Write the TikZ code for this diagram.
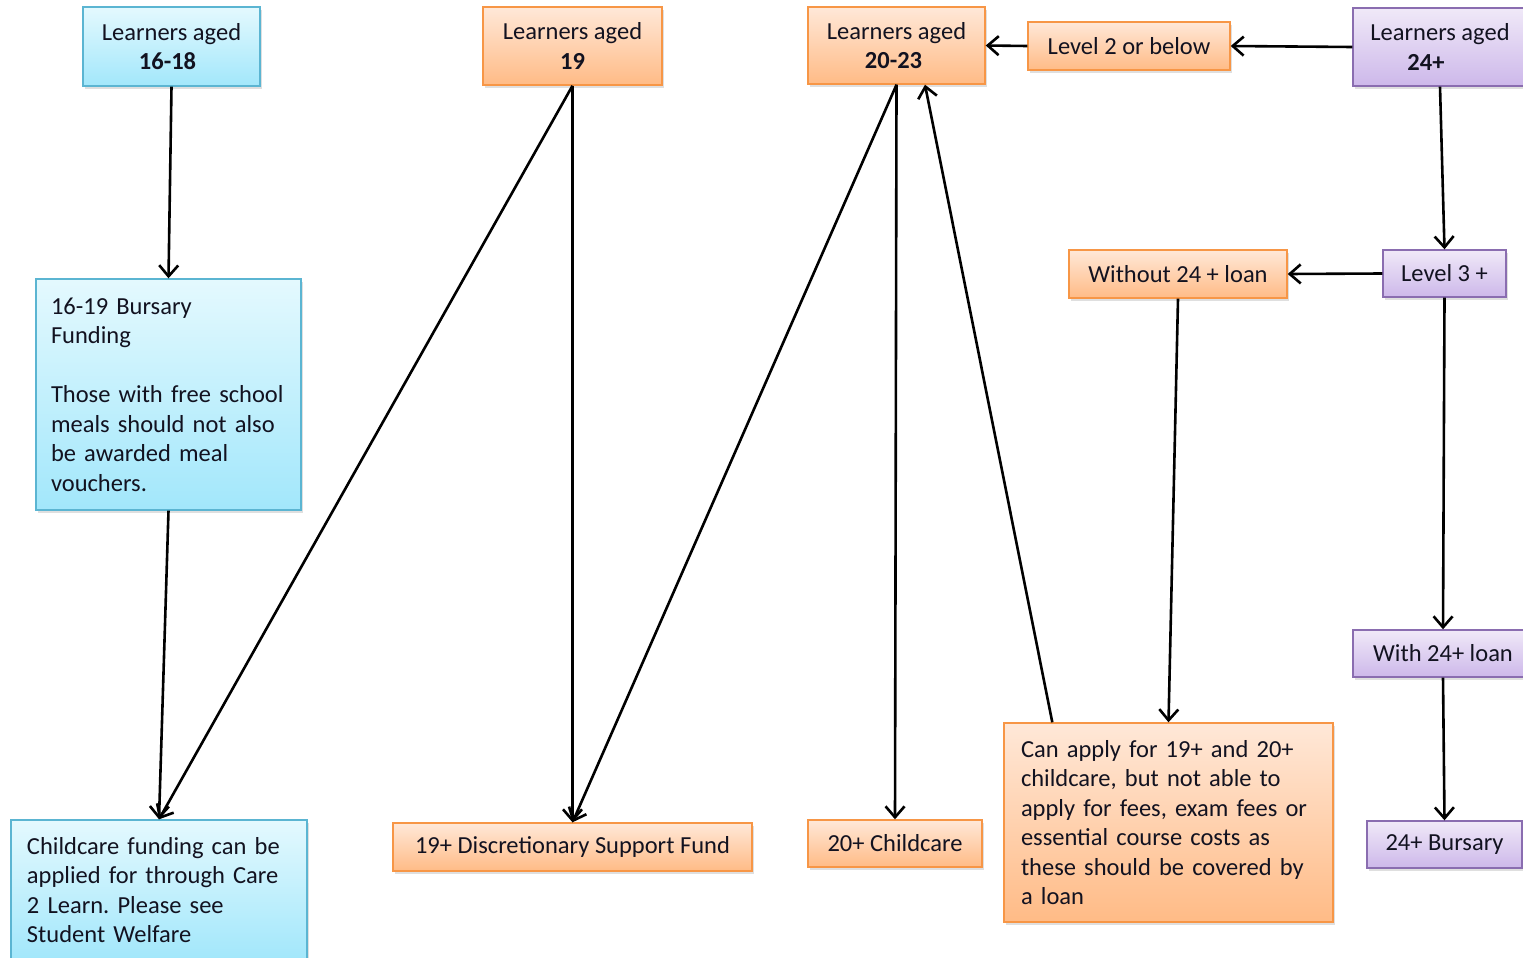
\documentclass[tikz,border=0pt]{standalone}
\usepackage{fontspec}
\setmainfont{Carlito}
\usetikzlibrary{arrows.meta,shadows,calc}
\definecolor{txt}{RGB}{18,18,32}
\definecolor{ortop}{HTML}{FFE8D8}
\definecolor{orbot}{HTML}{FFBB86}
\definecolor{orbd}{HTML}{F79646}
\definecolor{bltop}{HTML}{E4F9FE}
\definecolor{blbot}{HTML}{A2E7FB}
\definecolor{blbd}{HTML}{5BB5D2}
\definecolor{putop}{HTML}{F0E9F8}
\definecolor{pubot}{HTML}{CDB8EA}
\definecolor{pubd}{HTML}{8A6DB0}
\tikzset{
  box/.style={draw, line width=1.4pt, inner xsep=0pt, inner ysep=0pt, text=txt,
    align=center, drop shadow={opacity=0.25, shadow xshift=2pt, shadow yshift=-3pt}},
  obox/.style={box, draw=orbd, top color=ortop, bottom color=orbot},
  bbox/.style={box, draw=blbd, top color=bltop, bottom color=blbot},
  pbox/.style={box, draw=pubd, top color=putop, bottom color=pubot},
  conn/.style={line width=2.6pt, -{Straight Barb[length=11pt,width=19pt,line width=2.6pt]}},
}
\begin{document}
\frenchspacing
\begin{tikzpicture}[x=1pt,y=-1pt,font=\fontsize{24.5}{29.5}\selectfont]
\useasboundingbox (0,0) rectangle (1523,958);
\clip (0,0) rectangle (1523,958);
\fill[white] (0,0) rectangle (1523,958);

% top row
\node[bbox, minimum width=177pt, minimum height=79pt] (A) at (171.5,46.5) {Learners aged\\\textbf{16-18}\hspace*{8pt}};
\node[obox, minimum width=179pt, minimum height=78pt] (B) at (572.5,46) {Learners aged\\\textbf{19}};
\node[obox, minimum width=177pt, minimum height=77pt] (C) at (896.5,45.5) {Learners aged\\\textbf{20-23}\hspace*{6pt}};
\node[obox, minimum width=202pt, minimum height=48pt] (L2) at (1129,46) {Level 2 or below};
\node[pbox, minimum width=174pt, minimum height=78pt] (D) at (1440,47) {Learners aged\\\textbf{24+}\hspace*{28pt}};

% middle
\node[bbox, text width=235pt, inner xsep=15pt, align=left, minimum height=231pt] (Bur) at (168.5,394.5)
  {16-19 Bursary\\Funding\\[29.5pt]Those with free school\\meals should not also\\be awarded meal\\vouchers.};
\node[obox, minimum width=218pt, minimum height=48pt] (W) at (1178,274) {Without 24 + loan};
\node[pbox, minimum width=123pt, minimum height=47pt] (L3) at (1444.5,273.5) {Level 3 +};
\node[pbox, minimum width=180pt, minimum height=47pt] (W24) at (1443,653.5) {With 24+ loan};

% bottom
\node[bbox, text width=264pt, inner xsep=16pt, align=left, minimum height=140pt] (CF) at (159,890)
  {Childcare funding can be\\applied for through Care\\2 Learn. Please see\\Student Welfare};
\node[obox, minimum width=359pt, minimum height=48pt] (DSF) at (572.5,847) {19+ Discretionary Support Fund};
\node[obox, minimum width=174pt, minimum height=47pt] (C20) at (895,843.5) {20+ Childcare};
\node[obox, text width=295pt, inner xsep=17pt, align=left, minimum height=199pt] (CA) at (1168.5,822.5)
  {Can apply for 19+ and 20+\\childcare, but not able to\\apply for fees, exam fees or\\essential course costs as\\these should be covered by\\a loan};
\node[pbox, minimum width=155pt, minimum height=47pt] (B24) at (1444.5,844.5) {24+ Bursary};

% connectors
\draw[conn] (A.south) -- (Bur.north);
\draw[conn] (Bur.south) -- (CF.north);
\draw[conn] (B.south) -- (CF.north);
\draw[conn] (B.south) -- (DSF.north);
\draw[conn] (C.south) -- (DSF.north);
\draw[conn] (C.south) -- (C20.north);
\draw[conn] ([xshift=49pt]CA.north west) -- ([xshift=28.5pt]C.south);
\draw[conn] (W.south) -- (CA.north);
\draw[conn] (L2.west) -- (C.east);
\draw[conn] (D.west) -- (L2.east);
\draw[conn] (D.south) -- (L3.north);
\draw[conn] (L3.west) -- (W.east);
\draw[conn] (L3.south) -- (W24.north);
\draw[conn] (W24.south) -- (B24.north);
\end{tikzpicture}
\end{document}
